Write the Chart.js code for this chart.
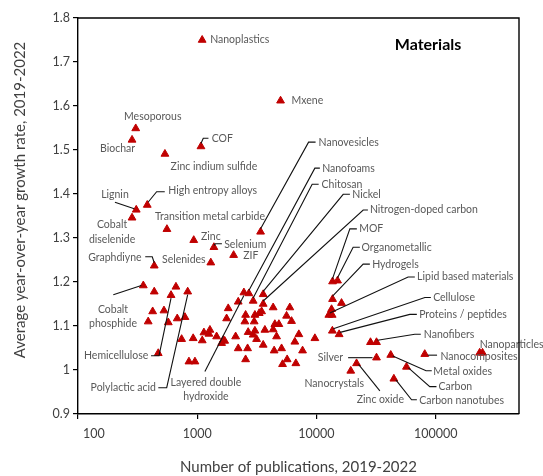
<!DOCTYPE html>
<html>
<head>
<meta charset="utf-8">
<script src="https://cdn.jsdelivr.net/npm/chart.js@4.4.1/dist/chart.umd.min.js"></script>
<style>
  html, body { margin: 0; padding: 0; background: #ffffff; }
  #wrap { width: 543px; height: 476px; }
</style>
</head>
<body>
<div id="wrap"><canvas id="chart" width="543" height="476"></canvas></div>
<script>
// Research topics: publication counts and average yearly growth rate
const topics = [
  'Nanoplastics', 'Mxene', 'Mesoporous', 'Biochar', 'COF', 'Zinc indium sulfide',
  'Lignin', 'High entropy alloys', 'Cobalt diselenide', 'Transition metal carbide',
  'Nanovesicles', 'Zinc', 'Selenium', 'ZIF', 'Selenides', 'Graphdiyne',
  'Cobalt phosphide', '', '', 'Hemicellulose', 'Polylactic acid',
  '', '', '', '', '', '', '', '', '', '', '', '', '', '', '', '', '', '', '', '',
  'Layered double hydroxide', 'Nanofoams', 'Nickel', '', 'Chitosan', 'Nitrogen-doped carbon',
  '', '', '', '', '', '', '', '', '', '', '', '', '', '', '', '', '', '', '', '', '',
  '', '', '', '', '', '', '', '', '', '', '', '', '',
  'MOF', 'Organometallic', 'Hydrogels', '', '', 'Lipid based materials', '',
  'Cellulose', 'Proteins / peptides', '', 'Nanofibers', 'Silver', 'Metal oxides',
  'Carbon', 'Zinc oxide', 'Nanocrystals', 'Carbon nanotubes', 'Nanocomposites',
  'Nanoparticles', ''
];

const publications = [
  1100, 5000, 305, 284, 1075, 536,
  308, 381, 284, 557,
  3400, 935, 1380, 2020, 1300, 436,
  353, 436, 663, 603, 832,
  423, 526, 388, 572, 680, 789, 740, 925, 1102, 1138, 1278, 1253, 1454, 1653, 1602, 852, 957, 1820, 1764, 471,
  2463, 2711, 3576, 2208, 2946, 3576,
  4335, 5980, 2546, 3046, 3311, 3467, 5614, 6183, 2510, 3005, 4478, 4843, 3694, 4335, 3046, 2675, 2946, 4630, 7120, 3147, 2100,
  6589, 9704, 3576, 2208, 2645, 5099, 4418, 7649, 2546, 5679, 5196, 6720, 1700,
  13650, 15030, 13650, 16230, 13390, 12700, 13550,
  13600, 15500, 28400, 31900, 31900, 42000,
  56900, 21700, 19400, 44600, 81000,
  234000, 247000
];

const growthRate = [
  1.750, 1.612, 1.549, 1.523, 1.508, 1.491,
  1.364, 1.375, 1.346, 1.320,
  1.314, 1.295, 1.279, 1.261, 1.244, 1.237,
  1.192, 1.178, 1.189, 1.170, 1.178,
  1.133, 1.135, 1.110, 1.108, 1.117, 1.120, 1.070, 1.072, 1.067, 1.085, 1.091, 1.082, 1.076, 1.068, 1.061, 1.019, 1.019, 1.140, 1.117, 1.038,
  1.176, 1.174, 1.172, 1.155, 1.157, 1.150,
  1.142, 1.142, 1.125, 1.125, 1.129, 1.133, 1.123, 1.111, 1.110, 1.110, 1.104, 1.104, 1.091, 1.092, 1.089, 1.086, 1.080, 1.076, 1.081, 1.070, 1.076,
  1.064, 1.072, 1.057, 1.049, 1.049, 1.049, 1.044, 1.044, 1.024, 1.024, 1.013, 1.015, 1.066,
  1.201, 1.203, 1.161, 1.152, 1.138, 1.125, 1.125,
  1.089, 1.081, 1.063, 1.063, 1.028, 1.034,
  1.007, 1.015, 0.998, 0.980, 1.036,
  1.039, 1.039
];

const xTickValues = [100, 1000, 10000, 100000];
const yTickValues = [0.9, 1.0, 1.1, 1.2, 1.3, 1.4, 1.5, 1.6, 1.7, 1.8];

// Where each topic name sits relative to its marker (px), with optional leader line
const labelPlacement = {
  'Nanoplastics': { dx: 8, dy: 0, align: 'left' },
  'Mxene': { dx: 11, dy: 0, align: 'left' },
  'Mesoporous': { dx: 17, dy: -12, align: 'center' },
  'Biochar': { dx: -14.5, dy: 9, align: 'center' },
  'COF': { dx: 10.7, dy: -7.4, align: 'left', leader: [[0, -3], [2.3, -8.2], [7.5, -8.2]] },
  'Zinc indium sulfide': { dx: 49, dy: 12.7, align: 'center' },
  'Lignin': { dx: -21.3, dy: -15, align: 'center', leader: [[-21.3, -7.5], [-2, -1]] },
  'High entropy alloys': { dx: 21, dy: -14, align: 'left', leader: [[1, -3], [9.4, -13.3], [17.5, -13.3]] },
  'Cobalt diselenide': { lines: ['Cobalt', 'diselenide'], lh: 15, dx: -20, dy: 7.3, align: 'center' },
  'Transition metal carbide': { dx: 43, dy: -12.3, align: 'center' },
  'Nanovesicles': { dx: 58, dy: -89.7, align: 'left', leader: [[0, -3], [48, -89.7], [55, -89.7]] },
  'Zinc': { dx: 7.3, dy: -3.3, align: 'left' },
  'Selenium': { dx: 10.3, dy: -2.3, align: 'left', leader: [[0, -2], [1.5, -3.5], [8, -3.5]] },
  'ZIF': { dx: 9.6, dy: 0.7, align: 'left' },
  'Selenides': { dx: -27, dy: -3.4, align: 'center' },
  'Graphdiyne': { dx: -12.6, dy: -8.4, align: 'right', leader: [[-9, -9], [-2, -9], [0, -3]] },
  'Cobalt phosphide': { lines: ['Cobalt', 'phosphide'], lh: 14, dx: -30.3, dy: 23.6, align: 'center', leader: [[-30, 9.3], [-2, 0]] },
  'Hemicellulose': { dx: -22.7, dy: 60.5, align: 'right', leader: [[-20, 60.5], [-12, 60.5], [0, 3]] },
  'Polylactic acid': { dx: -31.7, dy: 96, align: 'right', leader: [[-29.4, 96], [-21, 96], [0, 3]] },
  'Layered double hydroxide': { lines: ['Layered double', 'hydroxide'], lh: 14, dx: -38, dy: 90, align: 'center', leader: [[-39, 79], [0, 3]] },
  'Nanofoams': { dx: 73.3, dy: -125, align: 'left', leader: [[0, -3], [66, -125.3], [71, -125.3]] },
  'Chitosan': { dx: 68.4, dy: -116.7, align: 'left', leader: [[0, -3], [59, -116.7], [65.5, -116.7]] },
  'Nickel': { dx: 89, dy: -100, align: 'left', leader: [[0, -3], [80, -100], [86.7, -100]] },
  'Nitrogen-doped carbon': { dx: 106.7, dy: -94, align: 'left', leader: [[0, -3], [100, -94], [104.7, -94]] },
  'MOF': { dx: 26.6, dy: -52.7, align: 'left', leader: [[0, -3], [17.3, -52.7], [24.3, -52.7]] },
  'Organometallic': { dx: 24, dy: -33.4, align: 'left', leader: [[0, -3], [15.6, -33.4], [22.3, -33.4]] },
  'Hydrogels': { dx: 39.6, dy: -35, align: 'left', leader: [[0, -3], [30.6, -35], [37.3, -35]] },
  'Lipid based materials': { dx: 88.3, dy: -38, align: 'left', leader: [[1, -2], [79.3, -38], [86, -38]] },
  'Cellulose': { dx: 100.8, dy: -33.3, align: 'left', leader: [[1, -2], [92.5, -33.3], [98.5, -33.3]] },
  'Proteins / peptides': { dx: 80, dy: -20, align: 'left', leader: [[1, -2], [70.7, -20], [77.7, -20]] },
  'Nanofibers': { dx: 47.3, dy: -8, align: 'left', leader: [[1, -2], [38.3, -8], [44.3, -8]] },
  'Silver': { dx: -33.4, dy: 0, align: 'right', leader: [[-28.4, 0], [-4, 0]] },
  'Metal oxides': { dx: 42.6, dy: 16.7, align: 'left', leader: [[2, 1], [35.3, 15.7], [41, 15.7]] },
  'Carbon': { dx: 32, dy: 19.7, align: 'left', leader: [[2, 1], [23.3, 19.7], [30, 19.7]] },
  'Carbon nanotubes': { dx: 25.3, dy: 21.7, align: 'left', leader: [[2, 1], [17.7, 21], [23, 21]] },
  'Zinc oxide': { dx: 23.8, dy: 36.7, align: 'center', leader: [[2, 1], [23.3, 27.4]] },
  'Nanocrystals': { dx: -16.5, dy: 12.9, align: 'center' },
  'Nanocomposites': { dx: 15.7, dy: 2, align: 'left', leader: [[3, 1], [12.3, 1]] },
  'Nanoparticles': { dx: 0, dy: -8.7, align: 'left' }
};

const FONT = 'Lato, "Open Sans", sans-serif';
const AXIS_TEXT = '#404040';

const topicLabels = {
  id: 'topicLabels',
  afterDatasetsDraw(chart) {
    const ctx = chart.ctx;
    const meta = chart.getDatasetMeta(0);
    ctx.save();
    ctx.strokeStyle = '#111111';
    ctx.lineWidth = 1.1;
    ctx.fillStyle = '#595959';
    ctx.font = '10.5px ' + FONT;
    ctx.textBaseline = 'middle';
    topics.forEach((name, i) => {
      const p = labelPlacement[name];
      if (!name || !p) return;
      const el = meta.data[i];
      const x = el.x, y = el.y;
      if (p.leader) {
        ctx.beginPath();
        p.leader.forEach(([lx, ly], k) => {
          if (k === 0) ctx.moveTo(x + lx, y + ly); else ctx.lineTo(x + lx, y + ly);
        });
        ctx.stroke();
      }
      ctx.textAlign = p.align;
      const lines = p.lines || [name];
      lines.forEach((t, k) => ctx.fillText(t, x + p.dx, y + p.dy + k * (p.lh || 14)));
    });
    ctx.restore();
  }
};

// Closes the plot frame on top and right, writes the x tick labels, the panel heading and the y title
const frameAndTitles = {
  id: 'frameAndTitles',
  afterDraw(chart) {
    const { ctx, chartArea: a } = chart;
    const xs = chart.scales.x;
    ctx.save();
    ctx.strokeStyle = '#000000';
    ctx.lineWidth = 1.4;
    ctx.beginPath();
    ctx.moveTo(a.left, a.top);
    ctx.lineTo(a.right, a.top);
    ctx.lineTo(a.right, a.bottom);
    ctx.stroke();

    // x tick labels; the one sitting on the vertical axis is kept clear of it
    ctx.fillStyle = AXIS_TEXT;
    ctx.font = '12.5px ' + FONT;
    ctx.textBaseline = 'middle';
    xTickValues.forEach(v => {
      const px = xs.getPixelForValue(v);
      if (Math.abs(px - a.left) < 1) {
        ctx.textAlign = 'left';
        ctx.fillText(String(v), px + 5, a.bottom + 20);
      } else {
        ctx.textAlign = 'center';
        ctx.fillText(String(v), px, a.bottom + 20);
      }
    });

    ctx.fillStyle = '#000000';
    ctx.font = 'bold 16px ' + FONT;
    ctx.textAlign = 'center';
    ctx.fillText('Materials', a.right - 91, a.top + 27);

    ctx.translate(20, 200);
    ctx.rotate(-Math.PI / 2);
    ctx.fillStyle = AXIS_TEXT;
    ctx.font = '15px ' + FONT;
    ctx.fillText('Average year-over-year growth rate, 2019-2022', 0, 0);
    ctx.restore();
  }
};

const points = publications.map((v, i) => ({ x: v, y: growthRate[i] }));

new Chart(document.getElementById('chart'), {
  type: 'scatter',
  data: {
    datasets: [{
      data: points,
      pointStyle: 'triangle',
      radius: 4.5,
      backgroundColor: '#C00000',
      borderColor: '#C00000',
      borderWidth: 1
    }]
  },
  options: {
    responsive: false,
    animation: false,
    events: [],
    layout: { padding: { left: 0, top: 18, right: 24, bottom: 0 } },
    plugins: { legend: { display: false }, tooltip: { enabled: false } },
    scales: {
      x: {
        type: 'logarithmic',
        min: 100,
        max: 500000,
        afterBuildTicks: s => { s.ticks = xTickValues.map(v => ({ value: v, major: true })); },
        afterFit: s => { s.height = 62; },
        ticks: { display: false },
        grid: { drawOnChartArea: false, drawTicks: true, tickLength: 5, color: '#000000', lineWidth: 1.2 },
        border: { display: true, color: '#000000', width: 1.4 },
        title: {
          display: true, text: 'Number of publications, 2019-2022',
          color: AXIS_TEXT, font: { family: FONT, size: 15 }, padding: { top: 0, bottom: 0 }
        }
      },
      y: {
        type: 'linear',
        min: 0.9,
        max: 1.8,
        afterBuildTicks: s => { s.ticks = yTickValues.map(v => ({ value: v })); },
        afterFit: s => { s.width = 78; },
        ticks: {
          padding: 3, color: AXIS_TEXT, font: { family: FONT, size: 12.5 },
          callback: v => String(+Number(v).toFixed(1))
        },
        grid: { drawOnChartArea: false, drawTicks: true, tickLength: 5, color: '#000000', lineWidth: 1.2 },
        border: { display: true, color: '#000000', width: 1.4 }
      }
    }
  },
  plugins: [topicLabels, frameAndTitles]
});
</script>
</body>
</html>
